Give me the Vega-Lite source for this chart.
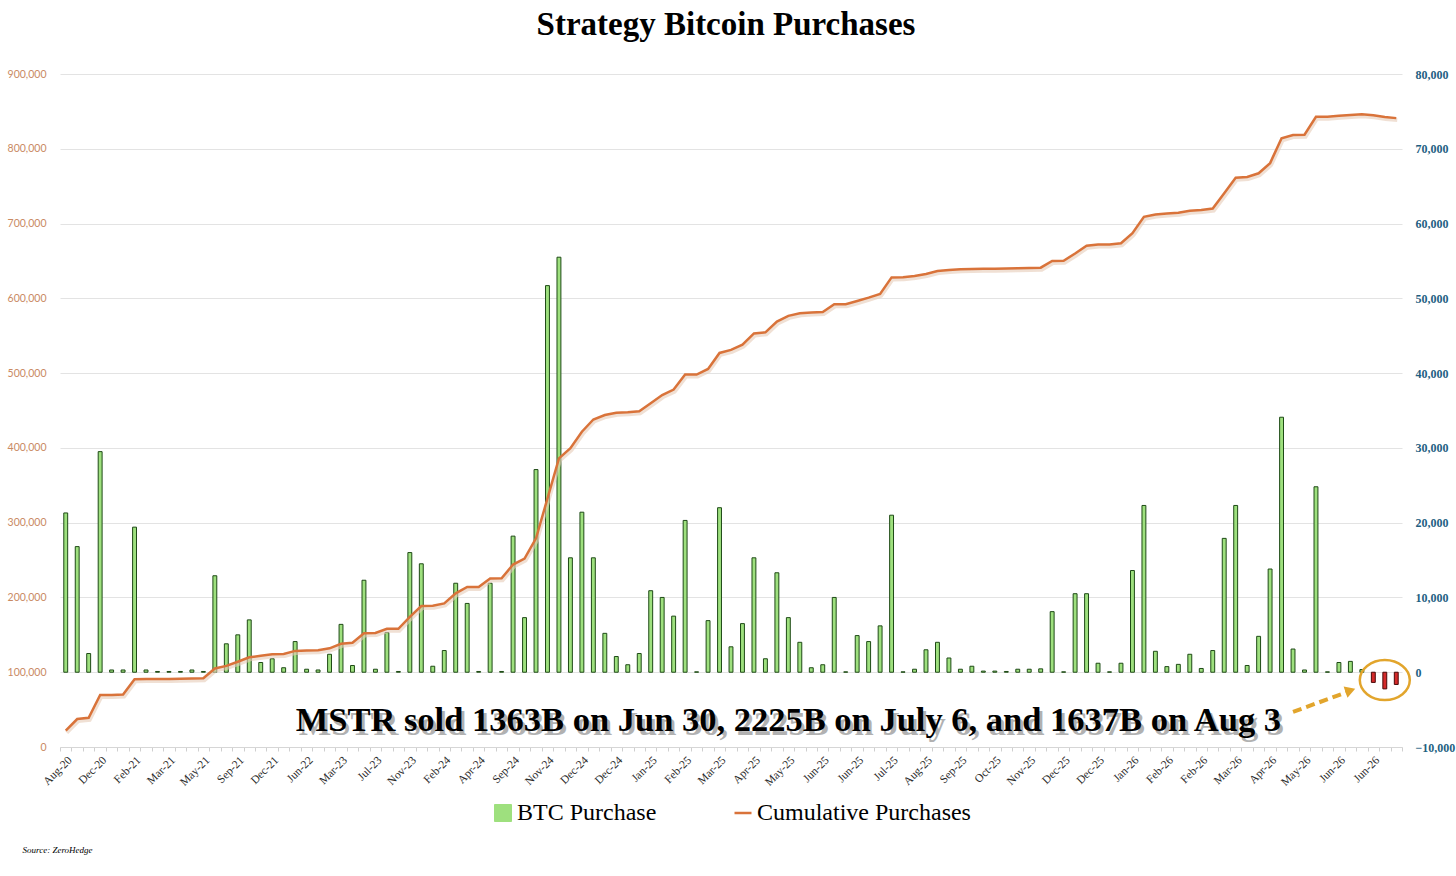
{
  "$schema": "https://vega.github.io/schema/vega-lite/v6.json",
  "width": 1342,
  "height": 673,
  "autosize": {"type": "none"},
  "padding": {"left": 60, "top": 74, "right": 54, "bottom": 129},
  "background": "white",
  "config": {
    "view": {"stroke": null},
    "font": "Liberation Serif",
    "legend": {"layout": {"bottom": {"anchor": "middle"}}}
  },
  "title": {
    "text": "Strategy Bitcoin Purchases",
    "font": "Liberation Serif",
    "fontSize": 33,
    "fontWeight": "bold",
    "color": "#000000",
    "anchor": "middle",
    "baseline": "alphabetic",
    "offset": 0,
    "dx": -5
  },
  "data": {
    "values": [
      {"i": 1, "v": 21300, "c": 21800},
      {"i": 2, "v": 16800, "c": 37400},
      {"i": 3, "v": 2500, "c": 39000},
      {"i": 4, "v": 29500, "c": 69500},
      {"i": 5, "v": 300, "c": 69700},
      {"i": 6, "v": 300, "c": 70300},
      {"i": 7, "v": 19400, "c": 90500},
      {"i": 8, "v": 300, "c": 90800},
      {"i": 9, "v": 100, "c": 91000},
      {"i": 10, "v": 100, "c": 91100},
      {"i": 11, "v": 100, "c": 91200},
      {"i": 12, "v": 300, "c": 91500},
      {"i": 13, "v": 100, "c": 91900},
      {"i": 14, "v": 12900, "c": 105000},
      {"i": 15, "v": 3800, "c": 108500},
      {"i": 16, "v": 5000, "c": 114000},
      {"i": 17, "v": 7000, "c": 120000},
      {"i": 18, "v": 1300, "c": 122000},
      {"i": 19, "v": 1800, "c": 124000},
      {"i": 20, "v": 600, "c": 124500},
      {"i": 21, "v": 4100, "c": 128500},
      {"i": 22, "v": 400, "c": 129000},
      {"i": 23, "v": 300, "c": 129500},
      {"i": 24, "v": 2400, "c": 132000},
      {"i": 25, "v": 6400, "c": 138000},
      {"i": 26, "v": 900, "c": 139500},
      {"i": 27, "v": 12300, "c": 152000},
      {"i": 28, "v": 400, "c": 152400},
      {"i": 29, "v": 5300, "c": 158000},
      {"i": 30, "v": 100, "c": 158100},
      {"i": 31, "v": 16000, "c": 174000},
      {"i": 32, "v": 14500, "c": 188500},
      {"i": 33, "v": 800, "c": 189000},
      {"i": 34, "v": 2900, "c": 192000},
      {"i": 35, "v": 11900, "c": 205500},
      {"i": 36, "v": 9200, "c": 214000},
      {"i": 37, "v": 100, "c": 214100},
      {"i": 38, "v": 11900, "c": 225500},
      {"i": 39, "v": 100, "c": 225600},
      {"i": 40, "v": 18200, "c": 244000},
      {"i": 41, "v": 7300, "c": 252000},
      {"i": 42, "v": 27100, "c": 279000},
      {"i": 43, "v": 51700, "c": 332500},
      {"i": 44, "v": 55500, "c": 386000},
      {"i": 45, "v": 15300, "c": 399500},
      {"i": 46, "v": 21400, "c": 421600},
      {"i": 47, "v": 15300, "c": 438000},
      {"i": 48, "v": 5200, "c": 444000},
      {"i": 49, "v": 2100, "c": 447000},
      {"i": 50, "v": 1000, "c": 447500},
      {"i": 51, "v": 2500, "c": 449000},
      {"i": 52, "v": 10900, "c": 459600},
      {"i": 53, "v": 10000, "c": 470700},
      {"i": 54, "v": 7500, "c": 478000},
      {"i": 55, "v": 20300, "c": 498000},
      {"i": 56, "v": 50, "c": 498100},
      {"i": 57, "v": 6900, "c": 505500},
      {"i": 58, "v": 22000, "c": 527000},
      {"i": 59, "v": 3400, "c": 531000},
      {"i": 60, "v": 6500, "c": 538000},
      {"i": 61, "v": 15300, "c": 553000},
      {"i": 62, "v": 1800, "c": 554500},
      {"i": 63, "v": 13300, "c": 569000},
      {"i": 64, "v": 7300, "c": 576500},
      {"i": 65, "v": 4000, "c": 580000},
      {"i": 66, "v": 600, "c": 581000},
      {"i": 67, "v": 1000, "c": 581700},
      {"i": 68, "v": 10000, "c": 592000},
      {"i": 69, "v": 50, "c": 592100},
      {"i": 70, "v": 4900, "c": 596400},
      {"i": 71, "v": 4100, "c": 601000},
      {"i": 72, "v": 6200, "c": 606000},
      {"i": 73, "v": 21000, "c": 628000},
      {"i": 74, "v": 50, "c": 628100},
      {"i": 75, "v": 400, "c": 630000},
      {"i": 76, "v": 3000, "c": 632500},
      {"i": 77, "v": 4000, "c": 636500},
      {"i": 78, "v": 1900, "c": 638000},
      {"i": 79, "v": 400, "c": 638800},
      {"i": 80, "v": 800, "c": 639200},
      {"i": 81, "v": 150, "c": 639400},
      {"i": 82, "v": 150, "c": 639600},
      {"i": 83, "v": 100, "c": 639800},
      {"i": 84, "v": 400, "c": 640200},
      {"i": 85, "v": 400, "c": 640600},
      {"i": 86, "v": 450, "c": 641000},
      {"i": 87, "v": 8100, "c": 650000},
      {"i": 88, "v": 50, "c": 650100},
      {"i": 89, "v": 10500, "c": 660000},
      {"i": 90, "v": 10500, "c": 670400},
      {"i": 91, "v": 1200, "c": 672000},
      {"i": 92, "v": 50, "c": 672100},
      {"i": 93, "v": 1200, "c": 673600},
      {"i": 94, "v": 13600, "c": 687000},
      {"i": 95, "v": 22300, "c": 709000},
      {"i": 96, "v": 2800, "c": 712000},
      {"i": 97, "v": 750, "c": 713400},
      {"i": 98, "v": 1050, "c": 714400},
      {"i": 99, "v": 2400, "c": 717000},
      {"i": 100, "v": 500, "c": 718000},
      {"i": 101, "v": 2900, "c": 720000},
      {"i": 102, "v": 17900, "c": 740600},
      {"i": 103, "v": 22300, "c": 761200},
      {"i": 104, "v": 900, "c": 762200},
      {"i": 105, "v": 4800, "c": 767200},
      {"i": 106, "v": 13800, "c": 780800},
      {"i": 107, "v": 34100, "c": 814000},
      {"i": 108, "v": 3100, "c": 818500},
      {"i": 109, "v": 300, "c": 818800},
      {"i": 110, "v": 24800, "c": 842800},
      {"i": 111, "v": 50, "c": 842900},
      {"i": 112, "v": 1300, "c": 844200},
      {"i": 113, "v": 1450, "c": 845300},
      {"i": 114, "v": 350, "c": 846200},
      {"i": 115, "v": -1363, "c": 844800},
      {"i": 116, "v": -2225, "c": 842600},
      {"i": 117, "v": -1637, "c": 841000}
    ]
  },
  "layer": [
    {
      "layer": [
        {
          "transform": [{"filter": "datum.v >= 0"}],
          "mark": {"type": "bar", "width": {"band": 0.34}, "stroke": "#1e4a16", "strokeWidth": 1},
          "encoding": {
            "x": {
              "field": "i",
              "type": "ordinal",
              "scale": {"paddingInner": 0, "paddingOuter": 0},
              "axis": {
                "title": null,
                "labelAngle": -45,
                "labelFont": "Liberation Serif",
                "labelFontSize": 11.5,
                "labelColor": "#2a2a2a",
                "labelPadding": 3,
                "labelOverlap": false,
                "labelExpr": "(datum.value - 1) % 3 == 0 ? ['Aug-20','Dec-20','Feb-21','Mar-21','May-21','Sep-21','Dec-21','Jun-22','Mar-23','Jul-23','Nov-23','Feb-24','Apr-24','Sep-24','Nov-24','Dec-24','Dec-24','Jan-25','Feb-25','Mar-25','Apr-25','May-25','Jun-25','Jun-25','Jul-25','Aug-25','Sep-25','Oct-25','Nov-25','Dec-25','Dec-25','Jan-26','Feb-26','Feb-26','Mar-26','Apr-26','May-26','Jun-26','Jun-26'][(datum.value - 1) / 3] : ''",
                "tickBand": "extent",
                "tickSize": 4,
                "tickColor": "#cfcfcf",
                "domainColor": "#d6d6d6"
              }
            },
            "y": {
              "field": "v",
              "type": "quantitative",
              "scale": {"domain": [-10000, 80000], "nice": false},
              "axis": {
                "orient": "right",
                "title": null,
                "values": [-10000, 0, 10000, 20000, 30000, 40000, 50000, 60000, 70000, 80000],
                "format": ",d",
                "labelFont": "Liberation Serif",
                "labelFontWeight": "bold",
                "labelFontSize": 12,
                "labelColor": "#1f5f82",
                "labelPadding": 13,
                "domain": false,
                "ticks": false,
                "grid": false
              }
            },
            "color": {
              "datum": "BTC Purchase",
              "type": "nominal",
              "scale": {"domain": ["BTC Purchase", "Cumulative Purchases"], "range": ["#9ee07e", "#d9733a"]},
              "legend": {
                "orient": "bottom",
                "direction": "horizontal",
                "title": null,
                "labelFont": "Liberation Serif",
                "labelFontSize": 24,
                "labelColor": "#000000",
                "labelOffset": 2,
                "labelLimit": 400,
                "symbolSize": 289,
                "symbolStrokeColor": "#1e4a16",
                "symbolStrokeWidth": 1,
                "columnPadding": 72,
                "offset": 13,
                "encode": {
                  "symbols": {
                    "update": {
                      "shape": {"signal": "datum.value === 'BTC Purchase' ? 'square' : 'stroke'"},
                      "fill": {"signal": "datum.value === 'BTC Purchase' ? '#9ee07e' : 'transparent'"},
                      "stroke": {"signal": "datum.value === 'BTC Purchase' ? '#1e4a16' : '#d9733a'"},
                      "strokeWidth": {"signal": "datum.value === 'BTC Purchase' ? 1 : 2.5"},
                      "opacity": {"value": 1}
                    }
                  }
                }
              }
            }
          }
        },
        {
          "transform": [{"filter": "datum.v < 0"}],
          "mark": {"type": "bar", "width": {"band": 0.34}, "fill": "#d42a2a", "stroke": "#4a0808", "strokeWidth": 1},
          "encoding": {
            "x": {"field": "i", "type": "ordinal"},
            "y": {"field": "v", "type": "quantitative"}
          }
        },
        {
          "data": {"values": [{}]},
          "mark": {"type": "text", "font": "Liberation Serif", "fontWeight": "bold", "fontSize": 34.5, "color": "#666666", "opacity": 0.5, "dx": 3, "dy": 4, "align": "center", "baseline": "alphabetic", "text": "MSTR sold 1363B on Jun 30, 2225B on July 6, and 1637B on Aug 3"},
          "encoding": {
            "x": {"datum": 64, "type": "ordinal"},
            "y": {"datum": -7800, "type": "quantitative"}
          }
        },
        {
          "data": {"values": [{}]},
          "mark": {"type": "text", "font": "Liberation Serif", "fontWeight": "bold", "fontSize": 34.5, "color": "#000000", "align": "center", "baseline": "alphabetic", "text": "MSTR sold 1363B on Jun 30, 2225B on July 6, and 1637B on Aug 3"},
          "encoding": {
            "x": {"datum": 64, "type": "ordinal"},
            "y": {"datum": -7800, "type": "quantitative"}
          }
        },
        {
          "data": {"values": [{}]},
          "mark": {"type": "rule", "color": "#e2a52c", "strokeWidth": 4, "strokeDash": [9, 5]},
          "encoding": {
            "x": {"datum": 108, "type": "ordinal"},
            "x2": {"datum": 113},
            "y": {"datum": -5300, "type": "quantitative"},
            "y2": {"datum": -2500}
          }
        },
        {
          "data": {"values": [{}]},
          "mark": {"type": "point", "shape": "triangle-right", "filled": true, "color": "#e2a52c", "opacity": 1, "size": 140, "angle": 341},
          "encoding": {
            "x": {"datum": 113, "type": "ordinal"},
            "y": {"datum": -2450, "type": "quantitative"}
          }
        },
        {
          "data": {"values": [{}]},
          "mark": {"type": "point", "shape": "M -1 0 A 1 0.8 0 1 0 1 0 A 1 0.8 0 1 0 -1 0 Z", "filled": false, "color": "#e2a52c", "opacity": 1, "strokeWidth": 2.5, "size": 2500},
          "encoding": {
            "x": {"datum": 116, "type": "ordinal"},
            "y": {"datum": -1050, "type": "quantitative"}
          }
        }
      ]
    },
    {
      "layer": [
        {
          "mark": {"type": "line", "color": "#e6cbb8", "strokeWidth": 4, "opacity": 0.6, "yOffset": 2, "xOffset": 1},
          "encoding": {
            "x": {"field": "i", "type": "ordinal"},
            "y": {"field": "c", "type": "quantitative"}
          }
        },
        {
          "mark": {"type": "line", "strokeWidth": 2.5},
          "encoding": {
            "x": {"field": "i", "type": "ordinal"},
            "y": {
              "field": "c",
              "type": "quantitative",
              "scale": {"domain": [0, 900000], "nice": false},
              "axis": {
                "orient": "left",
                "title": "Source: ZeroHedge",
                "titleFont": "Liberation Serif",
                "titleFontStyle": "italic",
                "titleFontWeight": "normal",
                "titleFontSize": 9,
                "titleColor": "#000000",
                "titleAngle": 0,
                "titleAlign": "left",
                "titleBaseline": "middle",
                "titleX": -38,
                "titleY": 775,
                "values": [0, 100000, 200000, 300000, 400000, 500000, 600000, 700000, 800000, 900000],
                "format": ",d",
                "labelFont": "Lato",
                "labelFontSize": 10.5,
                "labelColor": "#c98a63",
                "labelPadding": 14,
                "domain": false,
                "ticks": false,
                "grid": true,
                "gridColor": "#e3e3e3",
                "gridWidth": 1
              }
            },
            "color": {
              "datum": "Cumulative Purchases",
              "type": "nominal",
              "legend": {
                "orient": "bottom",
                "direction": "horizontal",
                "title": null,
                "labelFont": "Liberation Serif",
                "labelFontSize": 24,
                "labelColor": "#000000",
                "labelOffset": 2,
                "labelLimit": 400,
                "symbolSize": 289,
                "symbolStrokeColor": "#1e4a16",
                "symbolStrokeWidth": 1,
                "columnPadding": 72,
                "offset": 13,
                "encode": {
                  "symbols": {
                    "update": {
                      "shape": {"signal": "datum.value === 'BTC Purchase' ? 'square' : 'stroke'"},
                      "fill": {"signal": "datum.value === 'BTC Purchase' ? '#9ee07e' : 'transparent'"},
                      "stroke": {"signal": "datum.value === 'BTC Purchase' ? '#1e4a16' : '#d9733a'"},
                      "strokeWidth": {"signal": "datum.value === 'BTC Purchase' ? 1 : 2.5"},
                      "opacity": {"value": 1}
                    }
                  }
                }
              }
            }
          }
        }
      ]
    }
  ],
  "resolve": {"scale": {"y": "independent"}}
}
